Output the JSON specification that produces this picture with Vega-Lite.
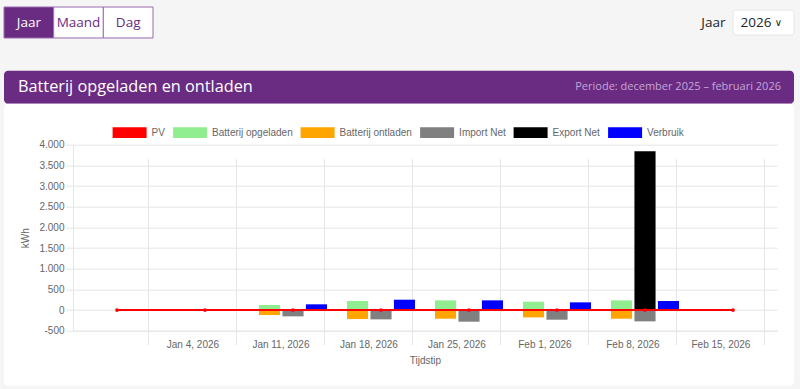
{
  "$schema": "https://vega.github.io/schema/vega-lite/v6.json",
  "background": "#f5f5f5",
  "padding": {"left": 3, "top": 6, "right": 7, "bottom": 3},
  "config": {
    "font": "Liberation Sans",
    "view": {"stroke": null},
    "locale": {"number": {"decimal": ",", "thousands": ".", "grouping": [3], "currency": ["€ ", ""], "minus": "-"}}
  },
  "datasets": {
    "knoppen": [
      {"knop": "Jaar", "status": "actief"},
      {"knop": "Maand", "status": "inactief"},
      {"knop": "Dag", "status": "inactief"}
    ],
    "jaarkeuze": [{"label": "Jaar", "jaar": "2026"}],
    "kop": [
      {"kant": "links", "tekst": "Batterij opgeladen en ontladen"},
      {"kant": "rechts", "tekst": "Periode: december 2025 – februari 2026"}
    ],
    "balken": [
      {"week": "2026-01-12", "reeks": "Batterij opgeladen", "groep": "laden", "kWh": 121},
      {"week": "2026-01-12", "reeks": "Batterij ontladen", "groep": "laden", "kWh": -121},
      {"week": "2026-01-12", "reeks": "Import Net", "groep": "net", "kWh": -153},
      {"week": "2026-01-12", "reeks": "Verbruik", "groep": "verbruik", "kWh": 138},
      {"week": "2026-01-19", "reeks": "Batterij opgeladen", "groep": "laden", "kWh": 218},
      {"week": "2026-01-19", "reeks": "Batterij ontladen", "groep": "laden", "kWh": -218},
      {"week": "2026-01-19", "reeks": "Import Net", "groep": "net", "kWh": -226},
      {"week": "2026-01-19", "reeks": "Verbruik", "groep": "verbruik", "kWh": 250},
      {"week": "2026-01-26", "reeks": "Batterij opgeladen", "groep": "laden", "kWh": 234},
      {"week": "2026-01-26", "reeks": "Batterij ontladen", "groep": "laden", "kWh": -210},
      {"week": "2026-01-26", "reeks": "Import Net", "groep": "net", "kWh": -282},
      {"week": "2026-01-26", "reeks": "Verbruik", "groep": "verbruik", "kWh": 234},
      {"week": "2026-02-02", "reeks": "Batterij opgeladen", "groep": "laden", "kWh": 202},
      {"week": "2026-02-02", "reeks": "Batterij ontladen", "groep": "laden", "kWh": -178},
      {"week": "2026-02-02", "reeks": "Import Net", "groep": "net", "kWh": -234},
      {"week": "2026-02-02", "reeks": "Verbruik", "groep": "verbruik", "kWh": 186},
      {"week": "2026-02-09", "reeks": "Batterij opgeladen", "groep": "laden", "kWh": 234},
      {"week": "2026-02-09", "reeks": "Batterij ontladen", "groep": "laden", "kWh": -210},
      {"week": "2026-02-09", "reeks": "Import Net", "groep": "net", "kWh": -274},
      {"week": "2026-02-09", "reeks": "Export Net", "groep": "net", "kWh": 3839},
      {"week": "2026-02-09", "reeks": "Verbruik", "groep": "verbruik", "kWh": 218}
    ],
    "pv": [
      {"week": "2025-12-29", "kWh": 0},
      {"week": "2026-01-05", "kWh": 0},
      {"week": "2026-01-12", "kWh": 0},
      {"week": "2026-01-19", "kWh": 0},
      {"week": "2026-01-26", "kWh": 0},
      {"week": "2026-02-02", "kWh": 0},
      {"week": "2026-02-09", "kWh": 0},
      {"week": "2026-02-16", "kWh": 0}
    ]
  },
  "bounds": "flush",
  "spacing": 63.7,
  "resolve": {"scale": {"color": "independent", "fill": "independent"}, "legend": {"color": "independent", "fill": "independent"}},
  "vconcat": [
    {
      "bounds": "flush",
      "spacing": 580,
      "center": true,
      "hconcat": [
        {
          "width": 149,
          "height": 31,
          "data": {"name": "knoppen"},
          "encoding": {
            "x": {"field": "knop", "type": "nominal", "sort": null, "scale": {"paddingInner": 0, "paddingOuter": 0}, "axis": null}
          },
          "layer": [
            {
              "mark": {"type": "bar", "stroke": "#9a6bb0", "strokeWidth": 1},
              "encoding": {
                "fill": {"field": "status", "type": "nominal", "scale": {"domain": ["actief", "inactief"], "range": ["#6a2c83", "#ffffff"]}, "legend": null}
              }
            },
            {
              "mark": {"type": "text", "font": "Open Sans", "fontSize": 13.5},
              "encoding": {
                "text": {"field": "knop"},
                "color": {"field": "status", "type": "nominal", "scale": {"domain": ["actief", "inactief"], "range": ["#ffffff", "#6a2c83"]}, "legend": null}
              }
            }
          ]
        },
        {
          "width": 61,
          "height": 25,
          "data": {"name": "jaarkeuze"},
          "encoding": {
            "y": {"field": "label", "type": "nominal", "scale": {"paddingInner": 0, "paddingOuter": 0},
              "axis": {"title": null, "domain": false, "ticks": false, "grid": false, "labelFont": "Open Sans", "labelFontSize": 13.5, "labelColor": "#212529", "labelPadding": 8}}
          },
          "layer": [
            {"mark": {"type": "bar", "fill": "#ffffff", "stroke": "#e6e6e6", "cornerRadius": 3}},
            {"mark": {"type": "text", "font": "Open Sans", "fontSize": 13.5, "color": "#212529", "align": "left", "dx": -23}, "encoding": {"text": {"field": "jaar"}}},
            {"mark": {"type": "text", "font": "DejaVu Sans", "fontSize": 10, "color": "#212529", "dx": 15}, "encoding": {"text": {"value": "∨"}}}
          ]
        }
      ]
    },
    {
      "bounds": "flush",
      "spacing": 0,
      "vconcat": [
        {
          "width": 790,
          "height": 33,
          "view": {"fill": "#6a2c83", "stroke": null, "cornerRadius": 4},
          "data": {"name": "kop"},
          "encoding": {
            "x": {"field": "kant", "type": "nominal", "scale": {"type": "point", "domain": ["links", "rechts"], "padding": 0}, "axis": null},
            "text": {"field": "tekst"}
          },
          "layer": [
            {"transform": [{"filter": "datum.kant === 'links'"}], "mark": {"type": "text", "align": "left", "dx": 14, "font": "Open Sans", "fontSize": 16.3, "color": "#ffffff"}},
            {"transform": [{"filter": "datum.kant === 'rechts'"}], "mark": {"type": "text", "align": "right", "dx": -13, "font": "Open Sans", "fontSize": 11, "color": "#c4a6d6"}}
          ]
        },
        {
          "width": 790,
          "height": 282,
          "view": {"fill": "#ffffff", "stroke": null, "cornerRadius": 4},
          "resolve": {"scale": {"x": "independent"}, "axis": {"x": "independent"}},
          "layer": [
            {
              "data": {"name": "balken"},
              "mark": {"type": "bar"},
              "encoding": {
                "x": {"field": "week", "type": "ordinal",
                  "scale": {"domain": ["2025-12-29", "2026-01-05", "2026-01-12", "2026-01-19", "2026-01-26", "2026-02-02", "2026-02-09", "2026-02-16"], "range": [69, 773], "paddingInner": 0.2, "paddingOuter": 0.1},
                  "axis": null},
                "xOffset": {"field": "groep", "type": "nominal", "scale": {"domain": ["laden", "net", "verbruik"], "paddingInner": 0.1, "paddingOuter": 0.05}},
                "y": {"field": "kWh", "type": "quantitative", "stack": "zero",
                  "scale": {"domain": [-500, 4000], "range": [227, 41], "nice": false, "zero": false},
                  "axis": {"title": "kWh", "titleFontWeight": "normal", "titleFontSize": 10, "titleColor": "#666666", "titlePadding": 8, "offset": -69,
                    "values": [-500, 0, 500, 1000, 1500, 2000, 2500, 3000, 3500, 4000], "tickCount": 10, "labelOverlap": false, "format": ",d",
                    "labelFontSize": 10, "labelColor": "#666666", "labelPadding": 2,
                    "tickSize": 7, "tickColor": "#e5e5e5", "gridColor": "#e5e5e5", "domainColor": "#e5e5e5"}},
                "color": {"field": "reeks", "type": "nominal",
                  "scale": {"domain": ["PV", "Batterij opgeladen", "Batterij ontladen", "Import Net", "Export Net", "Verbruik"],
                    "range": ["#ff0000", "#90ee90", "#ffa500", "#808080", "#000000", "#0000ff"]},
                  "legend": {"title": null, "orient": "none", "legendX": 108.6, "legendY": 44.6, "direction": "horizontal",
                    "symbolType": "M-1,-0.32H1V0.32H-1Z", "symbolSize": 1156, "symbolStrokeWidth": 0, "symbolOpacity": 1,
                    "labelFontSize": 10, "labelColor": "#666666", "labelOffset": 5, "columnPadding": 7.5, "padding": 0}}
              }
            },
            {
              "data": {"name": "pv"},
              "mark": {"type": "line", "color": "#ff0000", "strokeWidth": 2, "point": {"filled": true, "size": 14, "color": "#ff0000"}},
              "encoding": {
                "x": {"field": "week", "type": "temporal",
                  "scale": {"type": "utc", "range": [69, 773], "domain": [{"year": 2025, "month": 12, "date": 25, "hours": 12, "utc": true}, {"year": 2026, "month": 2, "date": 19, "hours": 12, "utc": true}]},
                  "axis": {"title": "Tijdstip", "titleFontWeight": "normal", "titleFontSize": 10, "titleColor": "#666666", "titlePadding": 6, "offset": -55,
                    "values": [
                      {"year": 2025, "month": 12, "date": 31, "hours": 12, "utc": true},
                      {"year": 2026, "month": 1, "date": 7, "hours": 12, "utc": true},
                      {"year": 2026, "month": 1, "date": 14, "hours": 12, "utc": true},
                      {"year": 2026, "month": 1, "date": 21, "hours": 12, "utc": true},
                      {"year": 2026, "month": 1, "date": 28, "hours": 12, "utc": true},
                      {"year": 2026, "month": 2, "date": 4, "hours": 12, "utc": true},
                      {"year": 2026, "month": 2, "date": 11, "hours": 12, "utc": true},
                      {"year": 2026, "month": 2, "date": 18, "hours": 12, "utc": true}
                    ],
                    "tickCount": 8,
                    "labelOffset": 44, "labelFlush": false, "labelOverlap": false,
                    "labelExpr": "time(datum.value) > utc(2026, 1, 16) ? '' : utcFormat(time(datum.value) + 302400000, '%b %-d, %Y')",
                    "labelFontSize": 10, "labelColor": "#666666", "labelPadding": 2,
                    "grid": true, "tickSize": 7, "tickColor": "#e5e5e5", "gridColor": "#e5e5e5", "domainColor": "#e5e5e5"}},
                "y": {"field": "kWh", "type": "quantitative", "scale": {"domain": [-500, 4000], "range": [227, 41], "nice": false, "zero": false}}
              }
            }
          ]
        }
      ]
    }
  ]
}
